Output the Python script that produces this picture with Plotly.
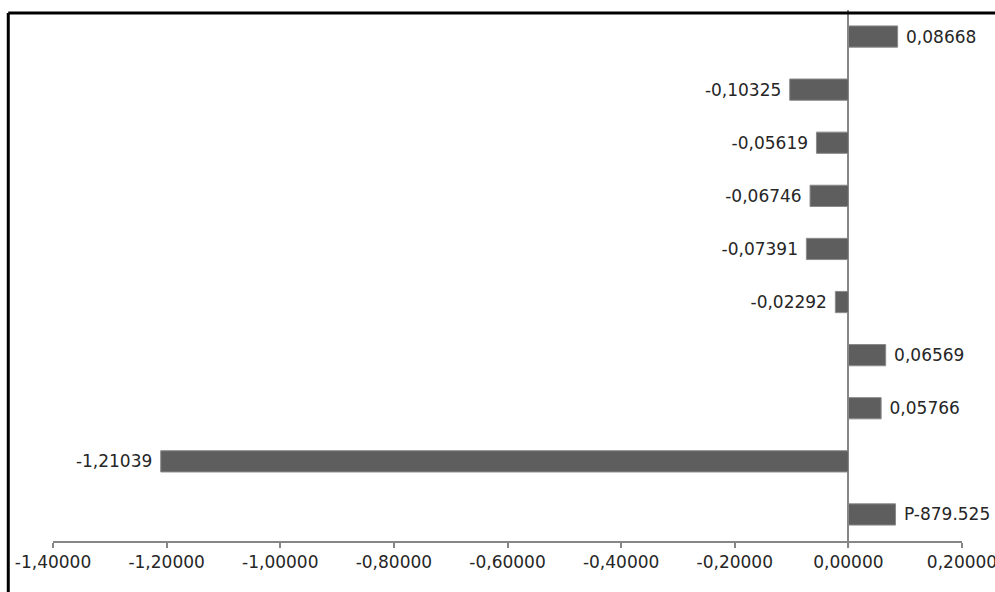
import plotly.graph_objects as go

categories = ["c1", "c2", "c3", "c4", "c5", "c6", "c7", "c8", "c9", "c10"]  # bottom to top
values = [0.0830, -1.21039, 0.05766, 0.06569, -0.02292, -0.07391, -0.06746, -0.05619, -0.10325, 0.08668]
labels = ["P-879.525", "-1,21039", "0,05766", "0,06569", "-0,02292", "-0,07391", "-0,06746", "-0,05619", "-0,10325", "0,08668"]
tick_vals = [-1.4, -1.2, -1.0, -0.8, -0.6, -0.4, -0.2, 0.0, 0.2]
tick_text = ["-1,40000", "-1,20000", "-1,00000", "-0,80000", "-0,60000", "-0,40000", "-0,20000", "0,00000", "0,20000"]

texts = [(" " + t) if v >= 0 else (t + " ") for t, v in zip(labels, values)]

fig = go.Figure(go.Bar(
    y=categories, x=values, orientation="h",
    marker=dict(color="#5e5e5e", line=dict(color="#8a8a8a", width=1)),
    text=texts, textposition="outside", cliponaxis=False,
    textfont=dict(family="DejaVu Sans", size=17, color="#262626"),
    width=0.4,
))

fig.update_layout(
    width=995, height=592,
    margin=dict(l=53, r=33, t=10, b=51, autoexpand=False),
    paper_bgcolor="white", plot_bgcolor="white",
    showlegend=False,
    font=dict(family="DejaVu Sans", size=16, color="#262626"),
    shapes=[
        dict(type="line", xref="paper", yref="paper", x0=-0.0492, x1=1.2, y0=0.9944, y1=0.9944,
             line=dict(color="black", width=3)),
        dict(type="line", xref="paper", yref="paper", x0=-0.0492, x1=-0.0492, y0=0.9944, y1=-0.2,
             line=dict(color="black", width=3)),
        dict(type="line", xref="x", yref="paper", x0=0, x1=0, y0=0, y1=-0.011,
             line=dict(color="#868686", width=1.5)),
    ],
)
fig.update_xaxes(
    range=[-1.4, 0.2], tickvals=tick_vals, ticktext=tick_text,
    ticklabeloverflow="allow", automargin=False,
    showgrid=False, showline=True, linecolor="#868686", linewidth=1.5,
    ticks="outside", ticklen=5, tickcolor="#868686", tickwidth=1.5,
    zeroline=True, zerolinecolor="#868686", zerolinewidth=1.5,
    tickfont=dict(family="DejaVu Sans", size=17, color="#262626"),
    fixedrange=True,
)
fig.update_yaxes(showticklabels=False, showgrid=False, showline=False, ticks="", zeroline=False, automargin=False)

fig.write_html("out.html")
